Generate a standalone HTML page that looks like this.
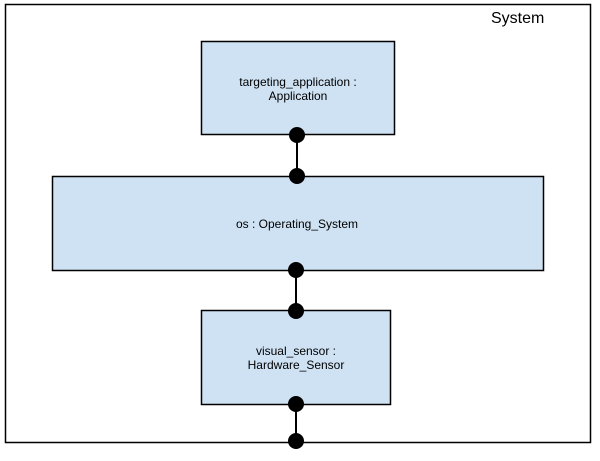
<!DOCTYPE html>
<html><head><style>body{margin:0;background:#fff}</style></head><body>
<svg width="600" height="456" xmlns="http://www.w3.org/2000/svg" font-family="Liberation Sans, Arial, sans-serif">
<rect x="0" y="0" width="600" height="456" fill="#fff"/>
<rect x="5.5" y="4.5" width="585" height="438" fill="#fff" stroke="#000" stroke-width="1.5"/>
<text x="491" y="23" font-size="16">System</text>
<g fill="#cfe2f3" stroke="#000" stroke-width="1.5">
<rect x="201.5" y="41.5" width="193" height="93"/>
<rect x="52.5" y="176.5" width="491" height="94"/>
<rect x="201.5" y="310.5" width="189" height="94"/>
</g>
<g stroke="#000" stroke-width="2">
<line x1="297" y1="134" x2="297" y2="176"/>
<line x1="296" y1="270" x2="296" y2="310"/>
<line x1="296" y1="404" x2="296" y2="441"/>
</g>
<g fill="#000">
<circle cx="297" cy="135" r="8"/>
<circle cx="297" cy="176" r="8"/>
<circle cx="296" cy="270" r="8"/>
<circle cx="296" cy="311" r="8"/>
<circle cx="296" cy="404" r="8"/>
<circle cx="296" cy="441" r="8"/>
</g>
<g font-size="12" text-anchor="middle" fill="#000">
<text x="298" y="86">targeting_application :</text>
<text x="298" y="100">Application</text>
<text x="297" y="228">os : Operating_System</text>
<text x="296" y="355">visual_sensor :</text>
<text x="296" y="369">Hardware_Sensor</text>
</g>
</svg>
</body></html>
